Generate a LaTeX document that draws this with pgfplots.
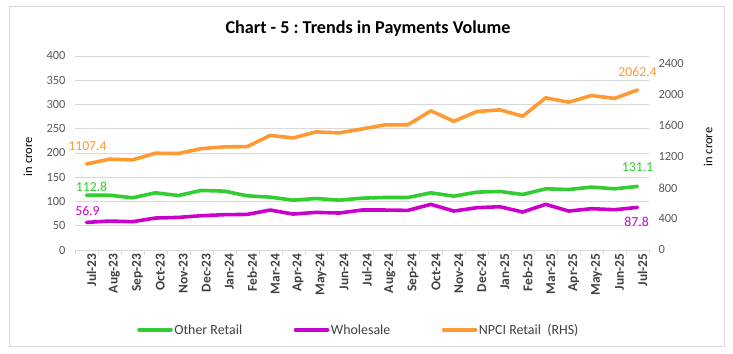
\documentclass[border=0pt]{standalone}
\usepackage{pgfplots}
\pgfplotsset{compat=1.18}
\usepackage{fontspec}
\setmainfont{Carlito}
\frenchspacing
\definecolor{cgreen}{RGB}{51,204,51}
\definecolor{cmag}{RGB}{204,0,204}
\definecolor{corange}{RGB}{255,153,51}
\definecolor{tickgray}{RGB}{89,89,89}
\definecolor{labgray}{RGB}{64,64,64}
\definecolor{gridgray}{RGB}{217,217,217}
\definecolor{framegray}{RGB}{217,217,217}
\begin{document}
\begin{tikzpicture}[x=1bp,y=1bp]
\useasboundingbox (0,0) rectangle (733,353);
\draw[framegray] (9,7) rectangle (724,347);
\node[font=\bfseries\fontsize{18.2}{21}\selectfont] at (368,324) {Chart - 5 : Trends in Payments Volume};
\begin{axis}[
  at={(75bp,103bp)}, anchor=south west,
  width=574bp, height=194bp, scale only axis,
  xmin=-0.5, xmax=24.5, ymin=0, ymax=400,
  ytick={0,50,...,400},
  xtick={0,...,24},
  xticklabels={Jul-23,Aug-23,Sep-23,Oct-23,Nov-23,Dec-23,Jan-24,Feb-24,Mar-24,Apr-24,May-24,Jun-24,Jul-24,Aug-24,Sep-24,Oct-24,Nov-24,Dec-24,Jan-25,Feb-25,Mar-25,Apr-25,May-25,Jun-25,Jul-25},
  minor xtick={-0.5,0.5,...,24.5},
  major tick length=0pt, minor tick length=5bp, tick align=outside,
  minor tick style={draw=gridgray},
  separate axis lines,
  axis x line*=bottom, axis y line*=left,
  x axis line style={draw=gridgray, -},
  y axis line style={draw=none},
  ymajorgrids, grid style={draw=gridgray, line width=0.8pt},
  /pgf/number format/assume math mode=true,
  yticklabel style={font=\fontsize{12.5}{14}\selectfont, text=tickgray, xshift=-6bp},
  xticklabel style={font=\bfseries\fontsize{13.5}{15}\selectfont, text=labgray, rotate=90, anchor=east, yshift=-5bp},
  ylabel={in crore},
  ylabel style={font=\fontsize{12.5}{14}\selectfont, at={(axis description cs:-0.082,0.48)}, anchor=center, rotate=0},
  legend style={at={(axis description cs:0.108,-0.412)}, anchor=west, draw=none, fill=none, inner sep=0pt,
    font=\fontsize{14}{16}\selectfont, text=labgray, legend columns=3,
    /tikz/every even column/.append style={column sep=50bp},
    nodes={inner sep=1.5bp}},
  legend image code/.code={\draw[#1] (0bp,0bp) -- (32bp,0bp);},
  every axis plot/.append style={line width=3.6pt, line join=round, line cap=round},
  clip=false,
]
\addplot[cgreen] coordinates {(0,112.8)(1,113.1)(2,107.6)(3,117.9)(4,112.4)(5,122.8)(6,121.4)(7,111.7)(8,109.0)(9,102.8)(10,106.2)(11,102.8)(12,106.9)(13,108.3)(14,108.3)(15,117.9)(16,111.0)(17,119.3)(18,120.7)(19,114.5)(20,126.2)(21,124.8)(22,129.7)(23,126.2)(24,131.1)};
\addlegendentry{Other Retail}
\addplot[cmag] coordinates {(0,56.9)(1,59.7)(2,58.3)(3,65.9)(4,67.2)(5,70.7)(6,72.8)(7,73.4)(8,82.4)(9,74.1)(10,77.6)(11,76.2)(12,82.4)(13,82.4)(14,81.7)(15,94.1)(16,80.3)(17,87.2)(18,89.3)(19,78.3)(20,94.1)(21,80.3)(22,85.2)(23,83.1)(24,87.8)};
\addlegendentry{Wholesale}
\addlegendimage{corange, line width=3.6pt}
\addlegendentry{NPCI Retail\ \ (RHS)}
\node[text=cgreen, font=\fontsize{13.8}{15}\selectfont, anchor=center, xshift=5bp, yshift=8bp] at (axis cs:0,112.8) {112.8};
\node[text=cmag, font=\fontsize{13.8}{15}\selectfont, anchor=center, xshift=1bp, yshift=11bp] at (axis cs:0,56.9) {56.9};
\node[text=cgreen, font=\fontsize{13.8}{15}\selectfont, anchor=center, yshift=19bp] at (axis cs:24,131.1) {131.1};
\node[text=cmag, font=\fontsize{13.8}{15}\selectfont, anchor=center, xshift=-1bp, yshift=-14.5bp] at (axis cs:24,87.8) {87.8};
\end{axis}
\begin{axis}[
  at={(75bp,103bp)}, anchor=south west,
  width=574bp, height=194bp, scale only axis,
  xmin=-0.5, xmax=24.5, ymin=0, ymax=2500,
  ytick={0,400,...,2400},
  hide x axis,
  axis y line*=right,
  y axis line style={draw=none},
  major tick length=0pt,
  /pgf/number format/assume math mode=true,
  /pgf/number format/1000 sep={},
  yticklabel style={font=\fontsize{12.5}{14}\selectfont, text=tickgray, xshift=6bp},
  ylabel={in crore},
  ylabel style={font=\fontsize{12.5}{14}\selectfont, at={(axis description cs:1.103,0.531)}, anchor=center, rotate=0},
  every axis plot/.append style={line width=3.6pt, line join=round, line cap=round},
  clip=false,
]
\addplot[corange] coordinates {(0,1107.4)(1,1170)(2,1161)(3,1247)(4,1243)(5,1307)(6,1329)(7,1332)(8,1477)(9,1444)(10,1522)(11,1509)(12,1560)(13,1612)(14,1614)(15,1793)(16,1659)(17,1784)(18,1806)(19,1724)(20,1961)(21,1905)(22,1991)(23,1953)(24,2062.4)};
\node[text=corange, font=\fontsize{13.8}{15}\selectfont, anchor=center, xshift=1bp, yshift=18bp] at (axis cs:0,1107.4) {1107.4};
\node[text=corange, font=\fontsize{13.8}{15}\selectfont, anchor=center, yshift=18bp] at (axis cs:24,2062.4) {2062.4};
\end{axis}
\end{tikzpicture}
\end{document}
